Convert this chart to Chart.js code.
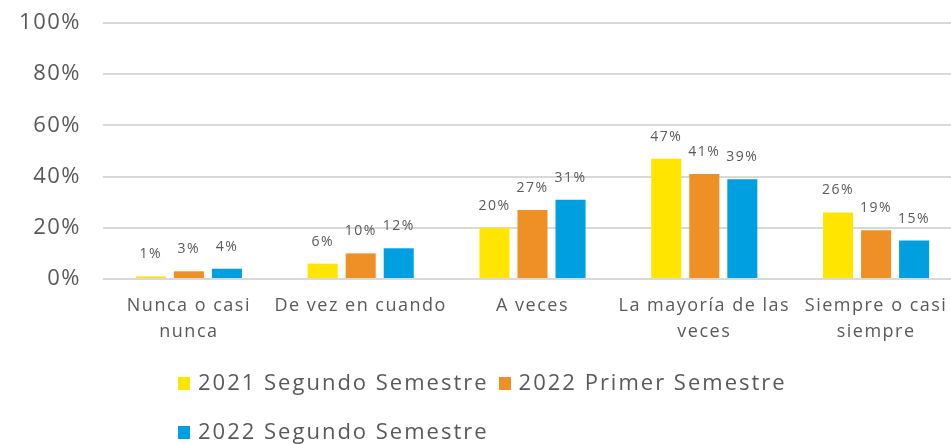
<!DOCTYPE html>
<html>
<head>
<meta charset="utf-8">
<script src="https://cdn.jsdelivr.net/npm/chart.js@4.4.0/dist/chart.umd.min.js"></script>
<style>
  body { margin: 0; background: #fff; font-family: "Open Sans", sans-serif; overflow: hidden; }
  #wrap { position: relative; width: 951px; height: 444px; overflow: hidden; }
  canvas { display: block; }
  .legend { position: absolute; left: 178px; color: #595959; font-size: 22px; letter-spacing: 2px; white-space: nowrap; }
  .legend span.box { display: inline-block; width: 12px; height: 13px; margin-right: 8px; vertical-align: 0px; }
  .legend span.item { margin-right: 10px; }
</style>
</head>
<body>
<div id="wrap">
  <!-- plot area in the original runs past the right edge, so the canvas is a bit wider and clipped -->
  <canvas id="myChart" width="962" height="444"></canvas>
  <div class="legend" id="leg1" style="top:366px"></div>
  <div class="legend" id="leg2" style="top:415px"></div>
</div>
<script>
let categories = [["Nunca o casi", "nunca"], "De vez en cuando", "A veces", ["La mayoría de las", "veces"], ["Siempre o casi", "siempre"]];
let seriesNames = ["2021 Segundo Semestre", "2022 Primer Semestre", "2022 Segundo Semestre"];
let s2021b = [1, 6, 20, 47, 26];
let s2022a = [3, 10, 27, 41, 19];
let s2022b = [4, 12, 31, 39, 15];
let colors = ["#FFE500", "#EE9025", "#009FDF"];
let textColor = "#595959";
let fontFamily = '"Open Sans", sans-serif';

// wider text, closer to the original font (canvas resize wipes ctx state, so set it each time)
let spacing = {
    id: 'spacing',
    beforeUpdate(chart) { chart.ctx.letterSpacing = '1.5px'; },
    beforeDraw(chart) { chart.ctx.letterSpacing = '1.5px'; }
};

let valueLabels = {
    id: 'valueLabels',
    afterDatasetsDraw(chart) {
        let ctx = chart.ctx;
        ctx.save();
        ctx.font = '14px ' + fontFamily;
        ctx.letterSpacing = '1.5px';
        ctx.fillStyle = textColor;
        ctx.textAlign = 'center';
        ctx.textBaseline = 'alphabetic';
        chart.data.datasets.forEach((ds, i) => {
            chart.getDatasetMeta(i).data.forEach((bar, j) => {
                ctx.fillText(ds.data[j] + '%', bar.x, bar.y - 18);
            });
        });
        ctx.restore();
    }
};

let bar = document.getElementById('myChart').getContext('2d');
let myBarChart = new Chart(bar, {
    type: 'bar',
    data: {
        labels: categories,
        datasets: [s2021b, s2022a, s2022b].map((d, i) => ({
            label: seriesNames[i],
            data: d,
            backgroundColor: colors[i],
            barPercentage: 0.79,
            categoryPercentage: 0.664
        }))
    },
    options: {
        responsive: false,
        animation: false,
        layout: { padding: { top: 23, right: 0, bottom: 0, left: 0 } },
        plugins: {
            legend: { display: false },
            tooltip: { enabled: false }
        },
        scales: {
            y: {
                min: 0,
                max: 100,
                ticks: {
                    stepSize: 20,
                    color: textColor,
                    font: { size: 22, family: fontFamily },
                    padding: 22,
                    callback: v => v + '%'
                },
                grid: { color: '#D9D9D9', lineWidth: 2, drawTicks: false },
                border: { display: false },
                afterFit: s => { s.width = 103; s.paddingTop = 0; s.paddingBottom = 0; }
            },
            x: {
                ticks: {
                    color: textColor,
                    font: { size: 18, family: fontFamily, lineHeight: 1.45 },
                    padding: 6,
                    maxRotation: 0,
                    autoSkip: false
                },
                grid: { display: false },
                border: { display: false },
                afterFit: s => { s.height = 165; s.paddingLeft = 0; s.paddingRight = 0; }
            }
        }
    },
    plugins: [spacing, valueLabels]
});

function legendItem(i) {
    return '<span class="item"><span class="box" style="background:' + colors[i] + '"></span>' + seriesNames[i] + '</span>';
}
document.getElementById('leg1').innerHTML = legendItem(0) + legendItem(1);
document.getElementById('leg2').innerHTML = legendItem(2);
</script>
</body>
</html>
